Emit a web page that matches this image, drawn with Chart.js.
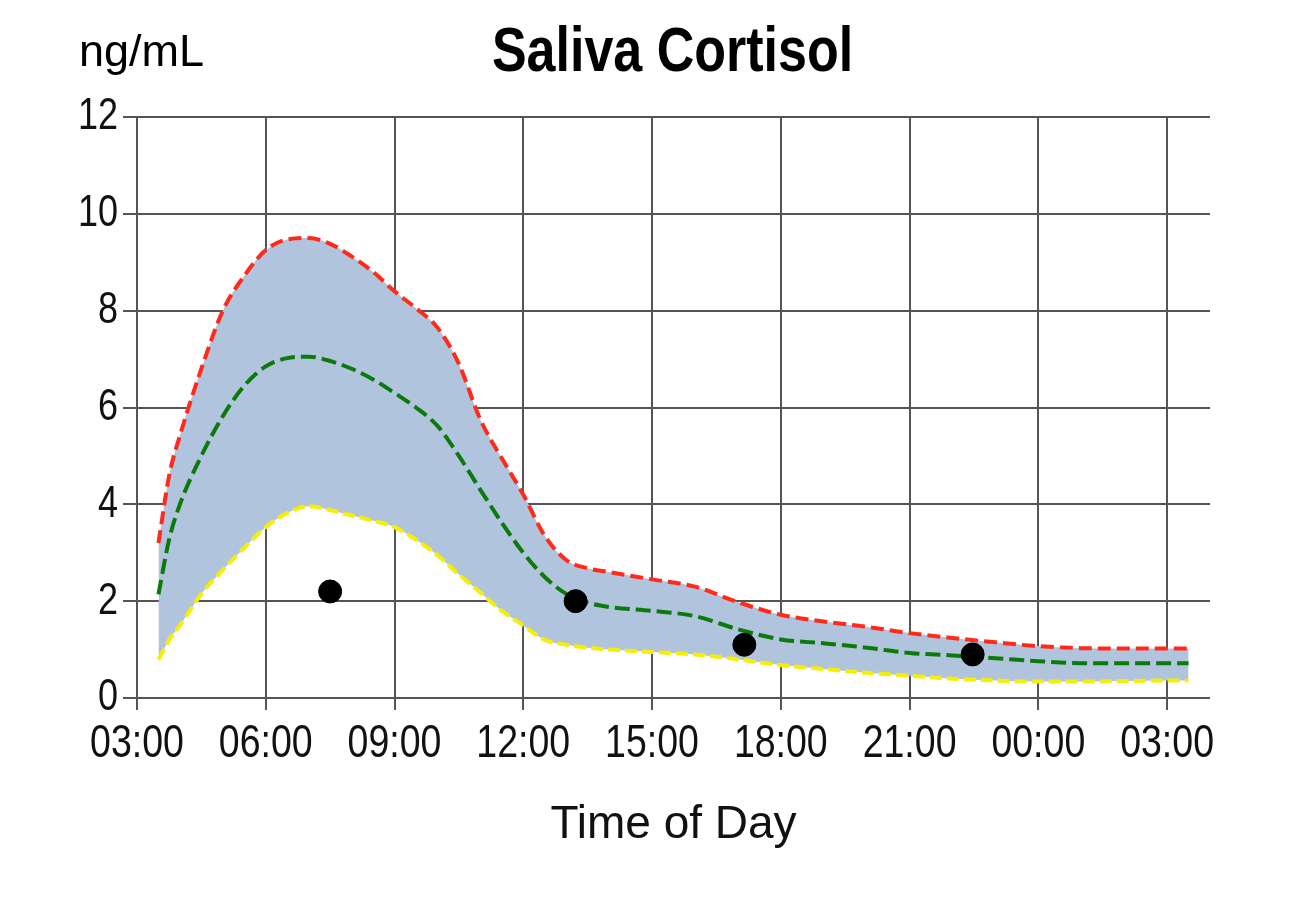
<!DOCTYPE html>
<html>
<head>
<meta charset="utf-8">
<script src="https://cdn.jsdelivr.net/npm/chart.js@4.4.1/dist/chart.umd.min.js"></script>
<style>
  html, body { margin: 0; padding: 0; background: #ffffff; }
  #wrap { width: 1303px; height: 922px; }
</style>
</head>
<body>
<div id="wrap"><canvas id="c" width="1303" height="922"></canvas></div>
<script>
// ---- Data (hours of day; values > 24 are the following day) ----
const hours = [3.5, 3.75, 4, 4.5, 5, 5.5, 6, 6.5, 7, 7.5, 8, 8.5, 9, 9.5, 10, 10.5, 11, 11.5, 12, 12.5, 13, 13.5, 14, 15, 16, 17, 18, 19, 20, 21, 22, 23, 24, 25, 26, 27, 27.5];
const upperValues = [3.2, 4.6, 5.42, 6.8, 8.0, 8.72, 9.25, 9.47, 9.5, 9.38, 9.12, 8.8, 8.4, 8.05, 7.65, 6.9, 5.75, 4.95, 4.2, 3.35, 2.85, 2.68, 2.6, 2.45, 2.3, 1.98, 1.72, 1.58, 1.47, 1.34, 1.24, 1.15, 1.07, 1.03, 1.02, 1.02, 1.02];
const meanValues = [2.14, 3.28, 4.0, 5.0, 5.82, 6.45, 6.85, 7.02, 7.05, 6.96, 6.8, 6.58, 6.3, 6.0, 5.62, 5.0, 4.3, 3.62, 3.0, 2.5, 2.15, 1.97, 1.88, 1.8, 1.69, 1.42, 1.21, 1.13, 1.04, 0.93, 0.88, 0.82, 0.76, 0.72, 0.72, 0.72, 0.72];
const lowerValues = [0.79, 1.2, 1.5, 2.15, 2.65, 3.1, 3.53, 3.82, 3.96, 3.88, 3.77, 3.66, 3.53, 3.27, 2.95, 2.55, 2.18, 1.8, 1.5, 1.2, 1.1, 1.04, 1.0, 0.95, 0.9, 0.8, 0.68, 0.6, 0.52, 0.46, 0.4, 0.36, 0.34, 0.34, 0.35, 0.36, 0.36];
const sampleHours = [7.5, 13.22, 17.15, 22.47];
const sampleValues = [2.2, 2.0, 1.1, 0.9];
const tickHours = [3, 6, 9, 12, 15, 18, 21, 24, 27];
const tickLabels = ['03:00', '06:00', '09:00', '12:00', '15:00', '18:00', '21:00', '00:00', '03:00'];
const yTicks = [0, 2, 4, 6, 8, 10, 12];
const titleText = 'Saliva Cortisol';
const unitText = 'ng/mL';
const xTitleText = 'Time of Day';

const FONT = '"Liberation Sans", Arial, sans-serif';
const GRID = '#555555';
const TICK_STRETCH = 1.25;
const TITLE_STRETCH = 1.22;

const toXY = (xs, ys) => xs.map((x, i) => ({ x: x, y: ys[i] }));
const stretchedTexts = new Set(tickLabels.concat(yTicks.map(String)));

// Taller glyphs, like the reference's tall tick lettering
const stretchPlugin = {
  id: 'stretchPlugin',
  beforeDraw(chart) {
    const ctx = chart.ctx;
    if (ctx.__stretched) return;
    const orig = ctx.fillText;
    ctx.fillText = function (t, x, y, mw) {
      let k = 1;
      if (stretchedTexts.has(String(t))) k = TICK_STRETCH;
      else if (t === titleText) k = TITLE_STRETCH;
      if (k === 1) return mw === undefined ? orig.call(this, t, x, y) : orig.call(this, t, x, y, mw);
      this.save();
      this.translate(x, y);
      this.scale(1, k);
      if (mw === undefined) orig.call(this, t, 0, 0); else orig.call(this, t, 0, 0, mw);
      this.restore();
    };
    ctx.__stretched = true;
  }
};

const textPlugin = {
  id: 'textPlugin',
  afterDraw(chart) {
    const ctx = chart.ctx;
    const a = chart.chartArea;
    ctx.save();
    ctx.fillStyle = '#000';
    ctx.textBaseline = 'alphabetic';
    ctx.font = 'bold 52px ' + FONT;
    ctx.textAlign = 'center';
    ctx.fillText(titleText, (a.left + a.right) / 2 - 1, 71);
    ctx.font = '45px ' + FONT;
    ctx.textAlign = 'left';
    ctx.fillText(unitText, 79, 66);
    ctx.restore();
  }
};

new Chart(document.getElementById('c'), {
  type: 'line',
  data: {
    datasets: [
      {
        label: 'Samples',
        type: 'scatter',
        data: toXY(sampleHours, sampleValues),
        pointRadius: 11.5,
        pointHoverRadius: 11.5,
        pointBackgroundColor: '#000',
        pointBorderColor: '#000',
        showLine: false,
        order: 0
      },
      {
        label: 'Upper',
        data: toXY(hours, upperValues),
        borderColor: '#ff2a1a',
        borderWidth: 4,
        borderDash: [13, 6],
        pointRadius: 0,
        cubicInterpolationMode: 'monotone',
        fill: { target: 3 },
        backgroundColor: '#b0c4de',
        order: 1
      },
      {
        label: 'Mean',
        data: toXY(hours, meanValues),
        borderColor: '#0b7a0b',
        borderWidth: 4,
        borderDash: [15, 6],
        pointRadius: 0,
        cubicInterpolationMode: 'monotone',
        fill: false,
        order: 1
      },
      {
        label: 'Lower',
        data: toXY(hours, lowerValues),
        borderColor: '#f8ee00',
        borderWidth: 4,
        borderDash: [12, 5],
        pointRadius: 0,
        cubicInterpolationMode: 'monotone',
        fill: false,
        order: 1
      }
    ]
  },
  options: {
    responsive: false,
    animation: false,
    devicePixelRatio: 1,
    layout: { padding: { left: 0, right: 93, top: 117, bottom: 0 } },
    plugins: {
      legend: { display: false },
      tooltip: { enabled: false },
      title: { display: false },
      filler: { drawTime: 'beforeDatasetsDraw' }
    },
    scales: {
      x: {
        type: 'linear',
        min: 3,
        max: 28,
        afterFit(s) { s.height = 224; },
        afterBuildTicks(s) { s.ticks = tickHours.map(v => ({ value: v })); },
        grid: { color: GRID, lineWidth: 2, tickLength: 12, drawTicks: true },
        border: { display: false },
        ticks: {
          autoSkip: false,
          maxRotation: 0,
          padding: 12,
          color: '#111',
          font: { family: FONT, size: 37.5 },
          callback(v) { const i = tickHours.indexOf(v); return i >= 0 ? tickLabels[i] : ''; }
        },
        title: {
          display: true,
          text: xTitleText,
          color: '#111',
          font: { family: FONT, size: 46 },
          padding: { top: 0, bottom: 69 }
        }
      },
      y: {
        type: 'linear',
        min: 0,
        max: 12,
        afterFit(s) { s.width = 137; },
        afterBuildTicks(s) { s.ticks = yTicks.map(v => ({ value: v })); },
        grid: { color: GRID, lineWidth: 2, tickLength: 14, drawTicks: true },
        border: { display: false },
        ticks: {
          padding: 5,
          color: '#111',
          font: { family: FONT, size: 36 }
        }
      }
    }
  },
  plugins: [stretchPlugin, textPlugin]
});
</script>
</body>
</html>
